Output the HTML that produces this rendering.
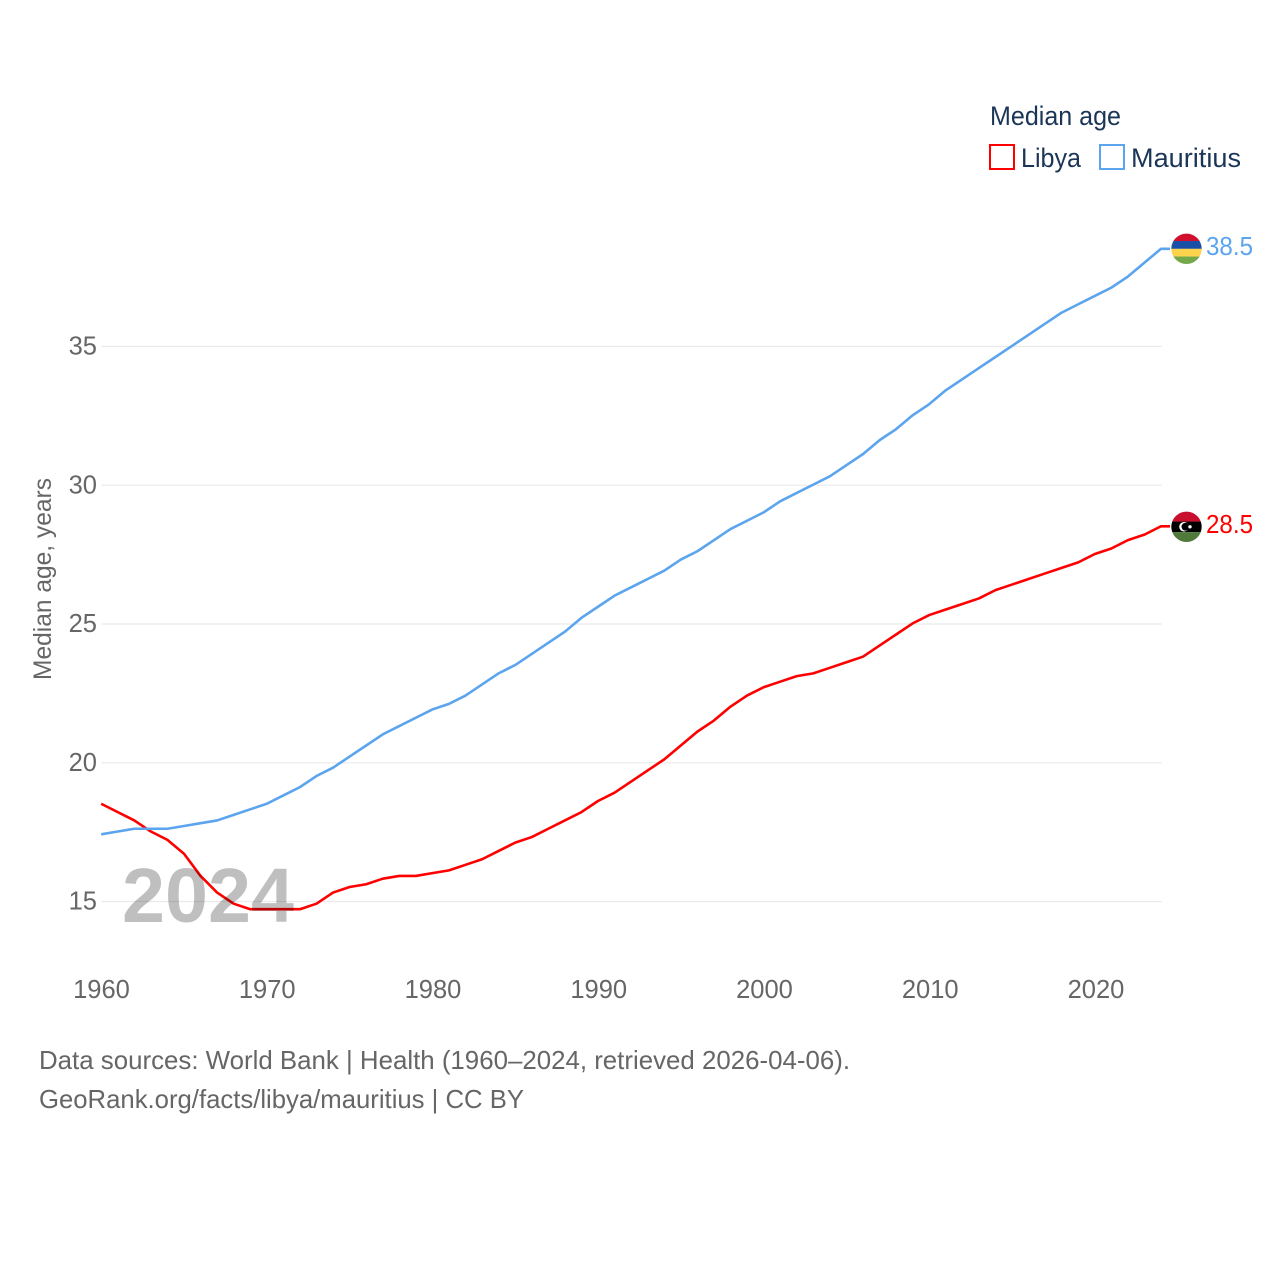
<!DOCTYPE html>
<html lang="en">
<head>
<meta charset="utf-8">
<title>Median age: Libya and Mauritius</title>
<style>
html,body{margin:0;padding:0;background:#fff;width:1280px;height:1280px;overflow:hidden}
svg{display:block}
text{font-family:"Liberation Sans",sans-serif}
</style>
</head>
<body>
<svg id="chart" width="1280" height="1280" viewBox="0 0 1280 1280" xmlns="http://www.w3.org/2000/svg">
  <defs>
    <clipPath id="clip-mauritius"><circle id="clip-m" cx="1186.5" cy="248.5" r="15.2"/></clipPath>
    <clipPath id="clip-libya"><circle id="clip-l" cx="1186.5" cy="526.5" r="15.2"/></clipPath>
  </defs>
  <g id="grid"></g>
  <g id="yticks"></g>
  <g id="xticks"></g>
  <text transform="translate(51,680) rotate(-90)" font-size="25" fill="#666" textLength="202" lengthAdjust="spacingAndGlyphs">Median age, years</text>
  <g id="series"></g>
  <text x="122" y="922" font-size="77" font-weight="700" fill="#000" fill-opacity="0.25" textLength="172" lengthAdjust="spacingAndGlyphs">2024</text>

  <g id="flag-mauritius" clip-path="url(#clip-mauritius)"></g>
  <g id="flag-libya" clip-path="url(#clip-libya)"></g>
  <text id="label-mauritius" x="1206" font-size="25.5" fill="#5ba4ee" textLength="47" lengthAdjust="spacingAndGlyphs"></text>
  <text id="label-libya" x="1206" font-size="25.5" fill="#ff0000" textLength="47" lengthAdjust="spacingAndGlyphs"></text>

  <g>
    <text x="990" y="125" font-size="27" fill="#1b3557" textLength="131" lengthAdjust="spacingAndGlyphs">Median age</text>
    <rect x="990" y="145" width="24" height="24" fill="none" stroke="#ff0000" stroke-width="2"/>
    <text x="1021" y="167" font-size="27" fill="#1b3557" textLength="60" lengthAdjust="spacingAndGlyphs">Libya</text>
    <rect x="1100" y="145" width="24" height="24" fill="none" stroke="#5ba4ee" stroke-width="2"/>
    <text x="1131" y="167" font-size="27" fill="#1b3557" textLength="110" lengthAdjust="spacingAndGlyphs">Mauritius</text>
  </g>

  <text x="39" y="1069" font-size="26" fill="#666" textLength="811" lengthAdjust="spacingAndGlyphs">Data sources: World Bank | Health (1960–2024, retrieved 2026-04-06).</text>
  <text x="39" y="1108" font-size="26" fill="#666" textLength="485" lengthAdjust="spacingAndGlyphs">GeoRank.org/facts/libya/mauritius | CC BY</text>
</svg>
<script>
const startYear = 1960;
const xTickLabels = [1960, 1970, 1980, 1990, 2000, 2010, 2020];
const yTickLabels = [15, 20, 25, 30, 35];
const libyaValues = [18.5,18.2,17.9,17.5,17.2,16.7,15.9,15.3,14.9,14.7,14.7,14.7,14.7,14.9,15.3,15.5,15.6,15.8,15.9,15.9,16.0,16.1,16.3,16.5,16.8,17.1,17.3,17.6,17.9,18.2,18.6,18.9,19.3,19.7,20.1,20.6,21.1,21.5,22.0,22.4,22.7,22.9,23.1,23.2,23.4,23.6,23.8,24.2,24.6,25.0,25.3,25.5,25.7,25.9,26.2,26.4,26.6,26.8,27.0,27.2,27.5,27.7,28.0,28.2,28.5];
const mauritiusValues = [17.4,17.5,17.6,17.6,17.6,17.7,17.8,17.9,18.1,18.3,18.5,18.8,19.1,19.5,19.8,20.2,20.6,21.0,21.3,21.6,21.9,22.1,22.4,22.8,23.2,23.5,23.9,24.3,24.7,25.2,25.6,26.0,26.3,26.6,26.9,27.3,27.6,28.0,28.4,28.7,29.0,29.4,29.7,30.0,30.3,30.7,31.1,31.6,32.0,32.5,32.9,33.4,33.8,34.2,34.6,35.0,35.4,35.8,36.2,36.5,36.8,37.1,37.5,38.0,38.5];

const NS = 'http://www.w3.org/2000/svg';
const xScale = function (year) { return 101.5 + (year - 1960) * (1096 - 101.5) / 60; };
const yScale = function (v) { return 901.5 - (v - 15) * (901.5 - 346.5) / 20; };
const markX = function (year) { return 101.2 + (year - 1960) * 16.56; };
const markY = function (v) { return yScale(v) - 0.6; };
const plotLeft = xScale(1960);
const plotRight = xScale(2024) - 0.5;
function make(tag, parent, attrs, text) {
  const el = document.createElementNS(NS, tag);
  Object.keys(attrs).forEach(function (k) { el.setAttribute(k, attrs[k]); });
  if (text !== undefined) el.textContent = text;
  parent.appendChild(el);
  return el;
}

const grid = document.getElementById('grid');
const yticks = document.getElementById('yticks');
const xticks = document.getElementById('xticks');
yTickLabels.forEach(function (v) {
  const line = make('line', grid, { x1: plotLeft, x2: plotRight, y1: yScale(v), y2: yScale(v), stroke: '#ebebeb', 'stroke-width': 1.3 });
  
  
  const label = make('text', yticks, { x: 97, y: yScale(v) + 8, 'text-anchor': 'end', 'font-size': 25.5, fill: '#666' }, String(v));
  
  
});
xTickLabels.forEach(function (y) {
  const label = make('text', xticks, { x: xScale(y), y: 998, 'text-anchor': 'middle', 'font-size': 25.5, fill: '#666' }, String(y));
  
  
});

const seriesGroup = document.getElementById('series');
function drawSeries(values, color, name) {
  const pts = values.map(function (v, i) { return markX(startYear + i).toFixed(2) + ',' + markY(v).toFixed(2); });
  const last = values[values.length - 1];
  pts.push((markX(startYear + values.length - 1) + 9).toFixed(2) + ',' + markY(last).toFixed(2));
  const line = make('polyline', seriesGroup, { points: pts.join(' '), fill: 'none', stroke: color, 'stroke-width': 2.6, 'stroke-linejoin': 'round' });
  
  
}
drawSeries(libyaValues, '#ff0000', 'libya-line');
drawSeries(mauritiusValues, '#5ba4ee', 'mauritius-line');

const lastM = mauritiusValues[mauritiusValues.length - 1];
const lastL = libyaValues[libyaValues.length - 1];
const myc = markY(lastM);
const lyc = markY(lastL) + 0.5;
document.getElementById('clip-m').setAttribute('cy', myc);
document.getElementById('clip-l').setAttribute('cy', lyc);
const labelM = document.getElementById('label-mauritius');
labelM.setAttribute('y', myc + 6);
labelM.textContent = lastM.toFixed(1);
const labelL = document.getElementById('label-libya');
labelL.setAttribute('y', lyc + 6);
labelL.textContent = lastL.toFixed(1);

const fm = document.getElementById('flag-mauritius');
['#d0102c', '#1a4fa8', '#fdd34e', '#74a84a'].forEach(function (c, i) {
  make('rect', fm, { x: 1170, y: myc - 15.5 + i * 7.75, width: 33, height: 7.9, fill: c });
});
const fl = document.getElementById('flag-libya');
make('rect', fl, { x: 1170, y: lyc - 16, width: 33, height: 11, fill: '#c8102e' });
make('rect', fl, { x: 1170, y: lyc - 5.2, width: 33, height: 10.6, fill: '#000' });
make('rect', fl, { x: 1170, y: lyc + 5.4, width: 33, height: 11, fill: '#4f7a3a' });
make('circle', fl, { cx: 1184, cy: lyc, r: 4.8, fill: '#fff' });
make('circle', fl, { cx: 1185.4, cy: lyc, r: 3.9, fill: '#000' });
make('circle', fl, { cx: 1190, cy: lyc, r: 1.7, fill: '#fff' });
</script>
</body>
</html>
